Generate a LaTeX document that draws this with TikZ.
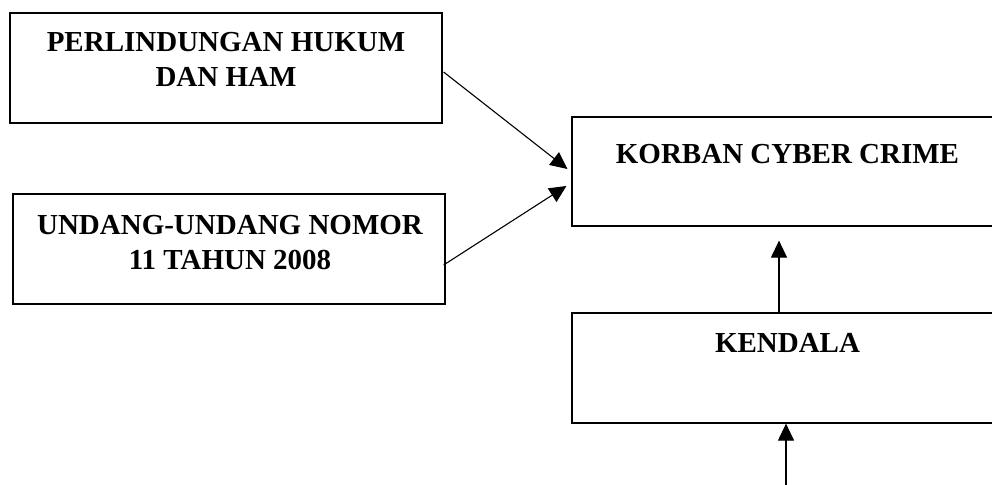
\documentclass[tikz,border=0pt]{standalone}
\usepackage{fontspec}
\setmainfont{Liberation Serif}
\usetikzlibrary{arrows.meta}
\begin{document}
\begin{tikzpicture}[x=1pt,y=-1pt,
  boxst/.style={draw=black,line width=1.2pt,rectangle,inner sep=0pt},
  txt/.style={font=\fontsize{29}{35}\selectfont\bfseries,align=center,anchor=base,inner sep=0pt},
  conn/.style={line width=1.1pt,-{Triangle[length=17pt,width=16pt]}}]
\useasboundingbox (0,0) rectangle (992,484);
\clip (0,0) rectangle (992,484);
\node[boxst,minimum width=432pt,minimum height=110pt] (b1) at (226,68) {};
\node[boxst,minimum width=432pt,minimum height=110pt] (b2) at (229,249) {};
\node[boxst,minimum width=431pt,minimum height=109pt] (b3) at (787.5,171.5) {};
\node[boxst,minimum width=431pt,minimum height=110pt] (b4) at (787.5,368) {};
\node[txt] (t1) at (226,87) {PERLINDUNGAN HUKUM\\DAN HAM};
\node[txt] (t2) at (230,269) {UNDANG-UNDANG NOMOR\\11 TAHUN 2008};
\node[txt] (t3) at (787.5,163) {KORBAN CYBER CRIME};
\node[txt] (t4) at (787.5,352) {KENDALA};
\coordinate (bot) at (786,490);
\draw[conn] ([xshift=1pt,yshift=-4pt]b1.east) -- ([xshift=-4pt,yshift=2.5pt]b3.west);
\draw[conn] ([xshift=-2pt,yshift=-16pt]b2.east) -- ([xshift=-5pt,yshift=-14.5pt]b3.west);
\draw[conn] ([xshift=-8.5pt]b4.north) -- ([xshift=-8.5pt,yshift=-14pt]b3.south);
\draw[conn] (bot) -- (bot |- b4.south);
\end{tikzpicture}
\end{document}
